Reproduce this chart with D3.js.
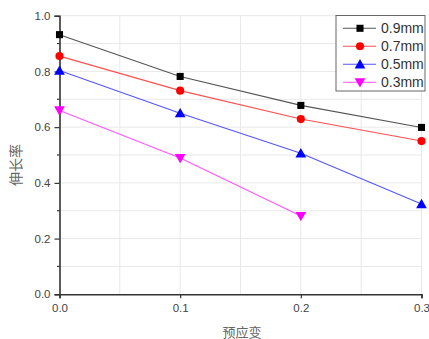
<!DOCTYPE html>
<html>
<head>
<meta charset="utf-8">
<script src="https://cdn.jsdelivr.net/npm/d3@7"></script>
<style>
  html, body { margin: 0; padding: 0; background: #fff; }
  svg { display: block; }
</style>
</head>
<body>
<svg id="chart" width="429" height="339"></svg>
<script>
// Pre-strain levels and elongation for each wire diameter
const preStrain = [0.0, 0.1, 0.2, 0.3];
const seriesNames = ["0.9mm", "0.7mm", "0.5mm", "0.3mm"];
const elong09 = [0.932, 0.782, 0.678, 0.599];
const elong07 = [0.855, 0.731, 0.629, 0.550];
const elong05 = [0.803, 0.650, 0.506, 0.324];
const elong03 = [0.660, 0.489, 0.281];
const xTicks = [0.0, 0.1, 0.2, 0.3];
const yTicks = [0.0, 0.2, 0.4, 0.6, 0.8, 1.0];

const series = [
  { name: seriesNames[0], values: elong09, color: "#000000", line: "#555555", symbol: d3.symbolSquare, rot: 0 },
  { name: seriesNames[1], values: elong07, color: "#ff0000", line: "#ff5050", symbol: d3.symbolCircle, rot: 0 },
  { name: seriesNames[2], values: elong05, color: "#0000ff", line: "#5555ff", symbol: d3.symbolTriangle, rot: 0 },
  { name: seriesNames[3], values: elong03, color: "#ff00ff", line: "#ff55ff", symbol: d3.symbolTriangle, rot: 180 }
];

const svg = d3.select("#chart");
const x = d3.scaleLinear().domain([0, 0.3]).range([59.5, 421.5]);
const y = d3.scaleLinear().domain([0, 1]).range([294.3, 15.7]);

// grid
const grid = svg.append("g");
grid.selectAll("line.gx").data(d3.range(1, 7).map(i => i * 0.05)).enter().append("line")
  .attr("x1", d => x(d)).attr("x2", d => x(d))
  .attr("y1", y(0)).attr("y2", y(1))
  .attr("stroke", "#e8e8e8").attr("stroke-width", 1);
grid.selectAll("line.gy").data(d3.range(1, 11).map(i => i * 0.1)).enter().append("line")
  .attr("x1", x(0)).attr("x2", x(0.3))
  .attr("y1", d => y(d)).attr("y2", d => y(d))
  .attr("stroke", "#e8e8e8").attr("stroke-width", 1);

// axes
const xAxis = d3.axisBottom(x).tickValues(xTicks).tickFormat(d3.format(".1f")).tickSize(4).tickPadding(6);
const yAxis = d3.axisLeft(y).tickValues(yTicks).tickFormat(d3.format(".1f")).tickSize(5).tickPadding(4);

const gx = svg.append("g").attr("transform", `translate(0,${y(0)})`).call(xAxis);
const gy = svg.append("g").attr("transform", `translate(${x(0)},0)`).call(yAxis);

// minor y ticks
svg.append("g").selectAll("line").data([0.1, 0.3, 0.5, 0.7, 0.9]).enter().append("line")
  .attr("x1", x(0) - 2.5).attr("x2", x(0))
  .attr("y1", d => y(d)).attr("y2", d => y(d))
  .attr("stroke", "#333").attr("stroke-width", 1.2);

[gx, gy].forEach(g => {
  g.select(".domain").attr("stroke", "#333").attr("stroke-width", 1.6);
  g.selectAll(".tick line").attr("stroke", "#333").attr("stroke-width", 1.2);
  g.selectAll(".tick text").attr("fill", "#444")
    .attr("font-family", "Liberation Sans, Arial, sans-serif")
    .attr("font-size", "11.5px");
});

// lines and markers
const line = d3.line().x((d, i) => x(preStrain[i])).y(d => y(d));
series.forEach(s => {
  svg.append("path").datum(s.values)
    .attr("d", line).attr("fill", "none")
    .attr("stroke", s.line).attr("stroke-width", 1.1);
  svg.append("g").selectAll("path").data(s.values).enter().append("path")
    .attr("d", d3.symbol().type(s.symbol).size(s.symbol === d3.symbolCircle ? 52 : 50))
    .attr("transform", (d, i) => `translate(${x(preStrain[i])},${y(d) + (s.symbol === d3.symbolTriangle ? (s.rot ? -1 : 1) : 0)}) rotate(${s.rot})`)
    .attr("fill", s.color);
});

// legend
const lg = svg.append("g");
lg.append("rect").attr("x", 336).attr("y", 15.5).attr("width", 89).attr("height", 75.5)
  .attr("fill", "#fff").attr("stroke", "#666").attr("stroke-width", 1);
series.forEach((s, i) => {
  const cy = 28.3 + i * 18;
  lg.append("line").attr("x1", 343).attr("x2", 376).attr("y1", cy).attr("y2", cy)
    .attr("stroke", s.line).attr("stroke-width", 1.1);
  lg.append("path")
    .attr("d", d3.symbol().type(s.symbol).size(s.symbol === d3.symbolCircle ? 52 : 50))
    .attr("transform", `translate(360,${cy + (s.symbol === d3.symbolTriangle ? (s.rot ? -1 : 1) : 0)}) rotate(${s.rot})`)
    .attr("fill", s.color);
  lg.append("text").attr("x", 381).attr("y", cy).attr("dy", "0.36em")
    .attr("font-family", "Liberation Sans, Arial, sans-serif").attr("font-size", "14px")
    .attr("fill", "#333").text(s.name);
});

// axis titles
svg.append("text").attr("x", 242).attr("y", 331)
  .attr("text-anchor", "middle").attr("dominant-baseline", "central")
  .attr("font-family", "Noto Sans CJK SC, sans-serif").attr("font-size", "13px")
  .attr("fill", "#666").text("预应变");
svg.append("text").attr("transform", "translate(15,165) rotate(-90)")
  .attr("text-anchor", "middle").attr("dominant-baseline", "central")
  .attr("font-family", "Noto Sans CJK SC, sans-serif").attr("font-size", "14px")
  .attr("fill", "#666").text("伸长率");
</script>
</body>
</html>
